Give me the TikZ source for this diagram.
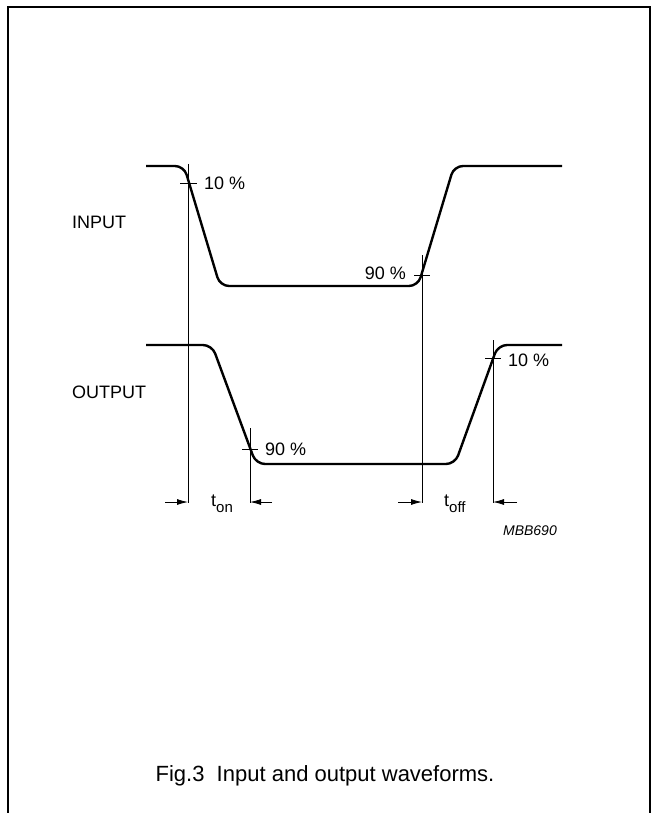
\documentclass[tikz,border=0pt]{standalone}
\usepackage{fontspec}
\setmainfont{Liberation Sans}
\usetikzlibrary{arrows.meta}
\begin{document}
\begin{tikzpicture}[x=1pt,y=-1pt,
  wave/.style={line width=2.4pt, rounded corners=9pt, line join=round},
  guide/.style={line width=0.8pt},
  tickmark/.style={line width=0.8pt},
  dimarrow/.style={line width=0.8pt,-{Latex[length=11pt,width=6pt]}},
  lbl/.style={font=\fontsize{18}{20}\selectfont, inner sep=0pt},
]
\useasboundingbox (0,0) rectangle (654,813);
% frame
\coordinate (fbl) at (8,813);
\coordinate (ftl) at (8,7);
\coordinate (ftr) at (650,7);
\coordinate (fbr) at (650,813);
\draw[line width=1.5pt] (fbl) -- (ftl) -- (ftr) -- (fbr);
% input waveform
\coordinate (i0) at (146,166);
\coordinate (i1) at (184,166);
\coordinate (i2) at (220,286);
\coordinate (i3) at (418,286);
\coordinate (i4) at (454,166);
\coordinate (i5) at (562,166);
\draw[wave] (i0) -- (i1) -- (i2) -- (i3) -- (i4) -- (i5);
% output waveform
\coordinate (o0) at (146,345);
\coordinate (o1) at (212,345);
\coordinate (o2) at (256,464);
\coordinate (o3) at (455,464);
\coordinate (o4) at (498,345);
\coordinate (o5) at (562,345);
\draw[wave] (o0) -- (o1) -- (o2) -- (o3) -- (o4) -- (o5);
% guide lines
\coordinate (g1t) at (188,164);  \coordinate (g1b) at (188,503);
\coordinate (g2t) at (250,428);  \coordinate (g2b) at (250,503);
\coordinate (g3t) at (422,255);  \coordinate (g3b) at (422,503);
\coordinate (g4t) at (493,340);  \coordinate (g4b) at (493,503);
\draw[guide] (g1t) -- (g1b);
\draw[guide] (g2t) -- (g2b);
\draw[guide] (g3t) -- (g3b);
\draw[guide] (g4t) -- (g4b);
% tick marks
\coordinate (t1a) at (180,183); \coordinate (t1b) at (197,183);
\coordinate (t2a) at (414,275); \coordinate (t2b) at (430,275);
\coordinate (t3a) at (242,449); \coordinate (t3b) at (258,449);
\coordinate (t4a) at (485,358); \coordinate (t4b) at (501,358);
\draw[tickmark] (t1a) -- (t1b);
\draw[tickmark] (t2a) -- (t2b);
\draw[tickmark] (t3a) -- (t3b);
\draw[tickmark] (t4a) -- (t4b);
% percentage labels
\node[lbl, anchor=west] (p1) at (204,183) {10 \%};
\node[lbl, anchor=east] (p2) at (406,273) {90 \%};
\node[lbl, anchor=west] (p3) at (265,449) {90 \%};
\node[lbl, anchor=west] (p4) at (508,360) {10 \%};
% signal labels
\node[lbl, anchor=west] (inlab) at (72,222) {INPUT};
\node[lbl, anchor=west] (outlab) at (72,392) {OUTPUT};
% timing arrows
\coordinate (a1s) at (165,502); \coordinate (a1e) at (188,502);
\coordinate (a2s) at (272,502); \coordinate (a2e) at (250,502);
\coordinate (a3s) at (398,502); \coordinate (a3e) at (422,502);
\coordinate (a4s) at (517,502); \coordinate (a4e) at (493,502);
\draw[dimarrow] (a1s) -- (a1e);
\draw[dimarrow] (a2s) -- (a2e);
\draw[dimarrow] (a3s) -- (a3e);
\draw[dimarrow] (a4s) -- (a4e);
\node[lbl, anchor=base west] (ton) at (211,506) {t\raisebox{-6pt}{\fontsize{15}{15}\selectfont on}};
\node[lbl, anchor=base west] (toff) at (444,506) {t\raisebox{-6pt}{\fontsize{15}{15}\selectfont off}};
\node[font=\fontsize{14}{16}\selectfont\itshape, inner sep=0pt, anchor=base east] (code) at (557,535) {MBB690};
% caption
\node[font=\fontsize{22}{26}\selectfont, inner sep=0pt, anchor=base] (cap) at (325,781) {Fig.3\ \ Input and output waveforms.};
\end{tikzpicture}
\end{document}
